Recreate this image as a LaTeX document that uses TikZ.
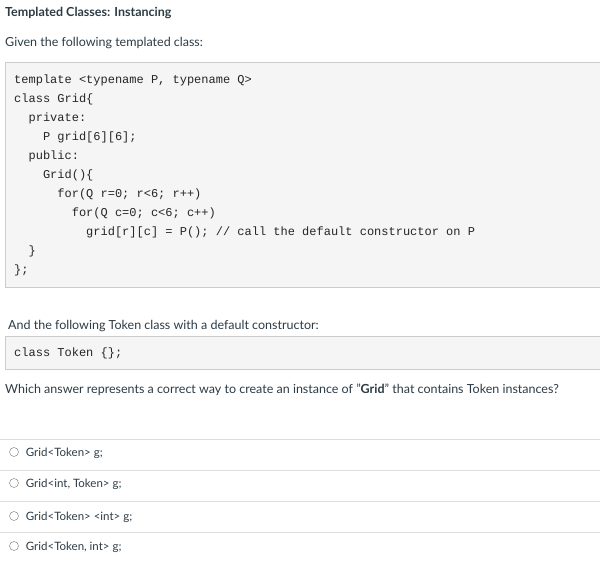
\documentclass[tikz,border=0pt]{standalone}
\usepackage{fontspec}
\setmainfont{Lato}
\setmonofont{Liberation Mono}
\definecolor{codebg}{HTML}{F5F5F5}
\definecolor{codeline}{HTML}{CCCCCC}
\definecolor{rule}{HTML}{DDDDDD}
\definecolor{txt}{HTML}{2D3B45}
\begin{document}
\begin{tikzpicture}[x=1pt,y=-1pt,
  txt/.style={anchor=base west,inner sep=0pt,text=txt,font=\fontsize{12.5}{15}\selectfont},
  code/.style={anchor=base west,inner sep=0pt,text=black!85,font=\ttfamily\fontsize{12}{14}\selectfont},
  codebox/.style={draw=codeline,fill=codebg},
  radio/.style={circle,draw=black!55,minimum size=9pt,inner sep=0pt}]
\useasboundingbox (0,0) rectangle (600,560);
\node (title) [txt,font=\bfseries\fontsize{12.5}{15}\selectfont] at (5,16) {Templated Classes: Instancing};
\node (given) [txt] at (5,46) {Given the following templated class:};
\draw [codebox] (5,62) rectangle (602,287);
\foreach \ind/\line [count=\i from 0] in {
  0/{template <typename P, typename Q>},
  0/{class Grid\{},
  2/{private:},
  4/{P grid[6][6];},
  2/{public:},
  4/{Grid()\{},
  6/{for(Q r=0; r<6; r++)},
  8/{for(Q c=0; c<6; c++)},
  10/{grid[r][c] = P(); // call the default constructor on P},
  2/{\}},
  0/{\};}}
  \node (c\i) [code] at (14+7.2*\ind,83+19*\i) {\line};
\node (and) [txt] at (8,329) {And the following Token class with a default constructor:};
\draw [codebox] (5,336) rectangle (602,369);
\node (token) [code] at (14,356) {class Token \{\};};
\node (which) [txt] at (5,393) {Which answer represents a correct way to create an instance of "\textbf{Grid}" that contains Token instances?};
\foreach \y in {439,470,501,532}
  \draw [rule] (0,\y) -- (600,\y);
\foreach \y/\opt [count=\i] in {452/{Grid<Token> g;},483/{Grid<int, Token> g;},516/{Grid<Token> <int> g;},546/{Grid<Token, int> g;}} {
  \node (r\i) [radio] at (14,\y) {};
  \node (o\i) [txt,font=\fontsize{11.5}{14}\selectfont,xshift=7pt] at (r\i.east |- 0,\y+4) {\opt};
}
\end{tikzpicture}
\end{document}
